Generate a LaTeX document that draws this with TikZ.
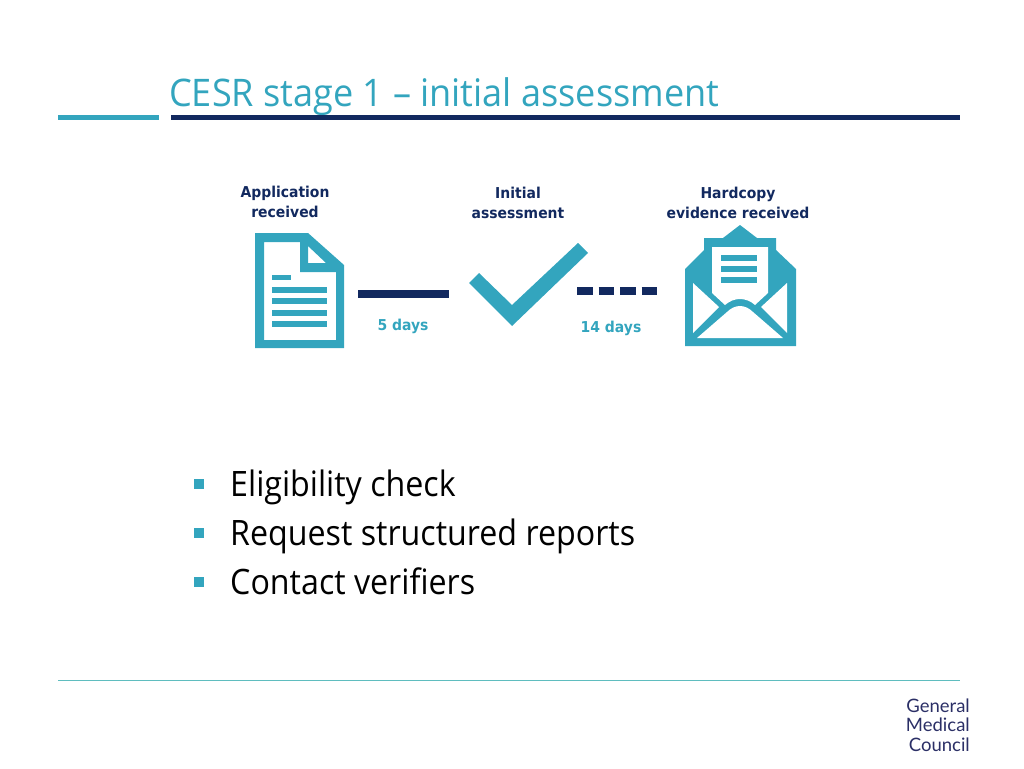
\documentclass[tikz,border=0pt]{standalone}
\usepackage{fontspec}
\setmainfont{Open Sans}[FakeStretch=0.92]
\newfontfamily\titlefont{Open Sans}[FakeStretch=0.95]
\newfontfamily\labelfont{DejaVu Sans}[FakeStretch=0.93]
\newfontfamily\logofont{Lato}
\usepackage{xcolor}
\definecolor{gmcteal}{HTML}{33A5BE}
\definecolor{gmcnavy}{HTML}{12295F}
\definecolor{gmcline}{HTML}{5FBDBF}
\definecolor{gmclogo}{HTML}{2B2F66}
\tikzset{
  stagelabel/.style={font=\labelfont\fontsize{15}{20}\selectfont\bfseries, text=gmcnavy, align=center, inner sep=0pt},
  dayslabel/.style={font=\labelfont\fontsize{15}{20}\selectfont\bfseries, text=gmcteal, inner sep=0pt},
  bullettext/.style={font=\fontsize{35}{35}\selectfont, anchor=base west, inner sep=0pt},
  bulletmark/.style={fill=gmcteal, minimum size=10pt, inner sep=0pt},
  gapbar/.style={draw=gmcnavy, line width=8pt}
}
\begin{document}
\begin{tikzpicture}[x=1pt, y=-1pt]
    \useasboundingbox (0,0) rectangle (1024,768);

    % title and the two rules under it
    \node [font=\titlefont\fontsize{38}{38}\selectfont, text=gmcteal, anchor=base west, inner sep=0pt] (title) at (169,106) {CESR stage 1 – initial assessment};
    \fill [gmcteal] (58,115) rectangle (159,120);
    \fill [gmcnavy] (171,115) rectangle (960,120);

    % labels above the icons
    \node [stagelabel] (received) at (285,202) {Application\\received};
    \node [stagelabel] (initial) at (518,203) {Initial\\assessment};
    \node [stagelabel] (hardcopy) at (738,203) {Hardcopy\\evidence received};

    % document icon
    \fill [gmcteal, even odd rule] (255,233) -- (308,233) -- (344,265) -- (344,348) -- (255,348) -- cycle
      (264,242) -- (300,242) -- (300,272) -- (336,272) -- (336,340) -- (264,340) -- cycle
      (308,246) -- (326,263) -- (308,263) -- cycle;
    \fill [gmcteal] (272,275) rectangle (291,280);
    \foreach \y in {287,298,310,321} {
      \fill [gmcteal] (272,\y) rectangle (327,\y+5.5);
    }

    % solid bar and its label
    \coordinate (barstart) at (358,293.5);
    \coordinate (barend) at (449,293.5);
    \draw [gapbar] (barstart) -- (barend);
    \node [dayslabel] (fivedays) at (403,326) {5 days};

    % tick icon
    \fill [gmcteal] (469,283) -- (479,273) -- (512,305) -- (578,243) -- (588,253) -- (512,326) -- cycle;

    % dashed bar and its label
    \coordinate (dashstart) at (577,291);
    \coordinate (dashend) at (658,291);
    \draw [gapbar, dash pattern=on 15.5pt off 6pt] (dashstart) -- (dashend);
    \node [dayslabel] (fourteendays) at (611,328) {14 days};

    % envelope icon
    \fill [gmcteal] (685,346) -- (685,269) -- (704,250) -- (704,238) -- (723,238) -- (740,225)
      -- (757,238) -- (776,238) -- (776,250) -- (796,269) -- (796,346) -- cycle;
    \fill [white] (712,247) -- (768,247) -- (768,293) -- (755,305) .. controls (746,297) and (734,297) .. (725,305) -- (712,293) -- cycle;
    \fill [white] (693,283) -- (719,307) -- (693,333) -- cycle;
    \fill [white] (787,283) -- (761,307) -- (787,333) -- cycle;
    \fill [white] (697,338) -- (727,312) .. controls (735,304) and (745,304) .. (753,312) -- (783,338) -- cycle;
    \foreach \y in {255,266,277} {
      \fill [gmcteal] (721,\y) rectangle (757,\y+5.5);
    }

    % bullet list
    \node [bulletmark] (markone) at (199,484) {};
    \node [bulletmark] (marktwo) at (199,533) {};
    \node [bulletmark] (markthree) at (199,582) {};
    \node [bullettext] (eligibility) at (230,496.5) {Eligibility check};
    \node [bullettext] (reports) at (230,545.5) {Request structured reports};
    \node [bullettext] (verifiers) at (230,594.5) {Contact verifiers};

    % footer rule and logo text
    \draw [gmcline, line width=1.2pt] (58,680.7) -- (960,680.7);
    \node [font=\logofont\fontsize{18.5}{19.5}\selectfont, text=gmclogo, align=right, inner sep=0pt, anchor=east] (logo) at (970,725) {General\\Medical\\Council};
\end{tikzpicture}
\end{document}
